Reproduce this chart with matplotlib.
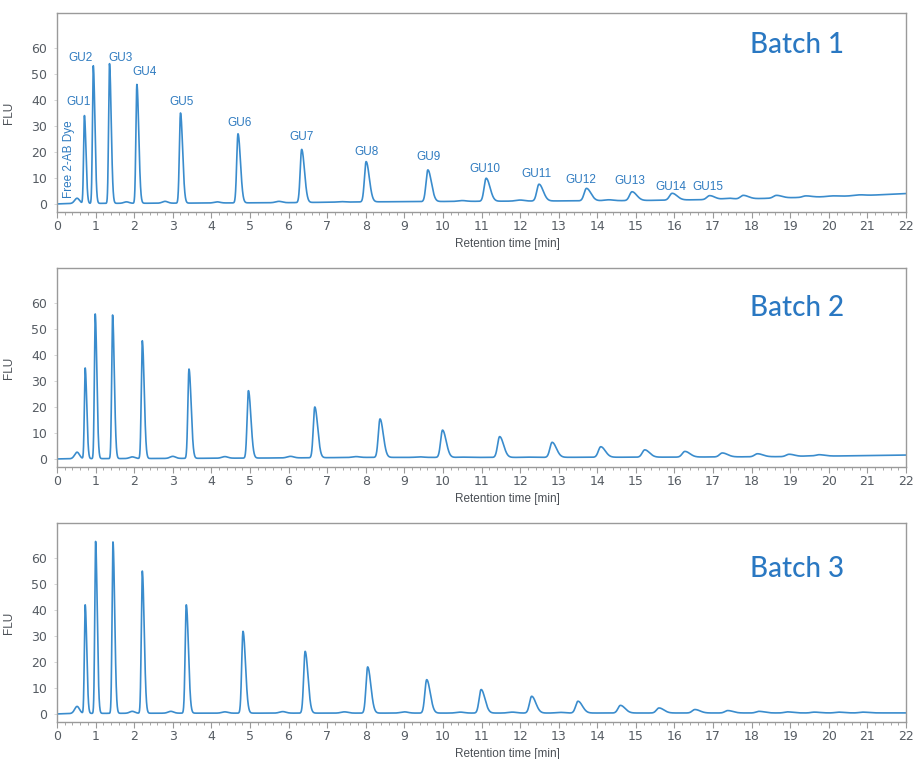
import numpy as np
import matplotlib
matplotlib.use("Agg")
import matplotlib.pyplot as plt
from matplotlib.ticker import MultipleLocator

# ---------------- data ----------------
# main peaks: apex retention time [min] and apex FLU
b1_peak_t = [0.71, 0.94, 1.36, 2.07, 3.20, 4.69, 6.34, 8.01, 9.61, 11.12, 12.49, 13.72,
             14.90, 15.94, 16.91, 17.78, 18.64, 19.40]
b1_peak_h = [34.0, 53.2, 54.0, 46.0, 35.0, 27.0, 21.0, 16.3, 13.1, 9.9, 7.6, 6.0,
             4.7, 4.1, 3.2, 3.3, 3.3, 3.1]
b1_minor_t = [0.52, 1.80, 2.80, 4.15, 5.75, 7.35, 10.50, 12.00, 14.30, 17.40, 20.10, 20.80]
b1_minor_h = [2.2, 0.8, 1.0, 0.8, 1.0, 0.9, 1.3, 1.5, 1.6, 2.2, 3.1, 3.5]
b1_base_t = [0, 0.45, 3, 6, 8, 12, 15, 17.5, 19, 20, 21, 22]
b1_base_v = [0, 0.2, 0.3, 0.5, 0.8, 1.1, 1.3, 1.8, 2.4, 2.8, 3.3, 4.0]

b2_peak_t = [0.73, 0.99, 1.44, 2.21, 3.42, 4.96, 6.68, 8.37, 9.99, 11.47, 12.83, 14.09,
             15.23, 16.27, 17.24, 18.15, 18.97, 19.75]
b2_peak_h = [35.0, 55.8, 55.4, 45.5, 34.6, 26.3, 20.0, 15.4, 11.1, 8.6, 6.4, 4.7,
             3.5, 2.9, 2.3, 2.0, 1.8, 1.6]
b2_minor_t = [0.52, 1.95, 3.00, 4.35, 6.05, 7.75, 9.40, 10.50, 12.20, 19.50]
b2_minor_h = [2.6, 0.8, 1.0, 0.9, 1.0, 0.9, 0.8, 0.7, 0.7, 1.2]
b2_base_t = [0, 0.45, 3, 6, 8, 12, 16, 19, 22]
b2_base_v = [0, 0.1, 0.2, 0.4, 0.6, 0.6, 0.7, 0.9, 1.5]

b3_peak_t = [0.73, 1.00, 1.45, 2.21, 3.35, 4.82, 6.43, 8.05, 9.58, 10.99, 12.30, 13.50,
             14.60, 15.60, 16.53, 17.38, 18.19, 18.92, 19.62, 20.24, 20.87]
b3_peak_h = [42.0, 66.4, 66.2, 55.0, 42.0, 31.8, 24.1, 18.1, 13.2, 9.4, 6.8, 4.9,
             3.3, 2.3, 1.7, 1.3, 1.0, 0.8, 0.7, 0.7, 0.7]
b3_minor_t = [0.52, 1.95, 2.95, 4.35, 5.85, 7.45, 9.00, 10.45, 11.80, 13.05]
b3_minor_h = [2.9, 1.0, 1.0, 0.8, 0.9, 0.8, 0.8, 0.7, 0.7, 0.6]
b3_base_t = [0, 0.45, 3, 22]
b3_base_v = [0, 0.2, 0.3, 0.4]

gu_labels = ["GU1", "GU2", "GU3", "GU4", "GU5", "GU6", "GU7", "GU8", "GU9", "GU10",
             "GU11", "GU12", "GU13", "GU14", "GU15"]
batch_names = ["Batch 1", "Batch 2", "Batch 3"]
y_ticks = [0, 10, 20, 30, 40, 50, 60]
x_ticks = list(range(0, 23))

# ---------------- layout / style ----------------
# label anchor positions (x in min, y in FLU) for the GU annotations
gu_pos = [(0.57, 39.1), (0.61, 56.3), (1.65, 56.3), (2.27, 50.9), (3.23, 39.1),
          (4.72, 31.3), (6.33, 25.8), (8.02, 20.1), (9.62, 17.9), (11.10, 13.3),
          (12.43, 11.4), (13.58, 9.2), (14.84, 8.8), (15.92, 6.6), (16.87, 6.6)]
LINE = "#3a8ccd"
BLUE_TXT = "#2f7bc0"
TITLE = "#2a78c2"
GRAY = "#9a9a9a"
TICK_TXT = "#565c63"

t = np.linspace(0, 22, 8801)


def trace(pt, ph, mt, mh, bt, bv):
    base = np.interp(t, bt, bv)
    y = base.copy()
    for c, h in zip(pt, ph):
        sl = 0.019 + 0.003 * c
        sr = 1.9 * sl
        s = np.where(t < c, sl, sr)
        y += (h - np.interp(c, bt, bv)) * np.exp(-0.5 * ((t - c) / s) ** 2)
    for c, h in zip(mt, mh):
        s = 0.06 + 0.004 * c
        y += (h - np.interp(c, bt, bv)) * np.exp(-0.5 * ((t - c) / s) ** 2)
    return y


series = [
    trace(b1_peak_t, b1_peak_h, b1_minor_t, b1_minor_h, b1_base_t, b1_base_v),
    trace(b2_peak_t, b2_peak_h, b2_minor_t, b2_minor_h, b2_base_t, b2_base_v),
    trace(b3_peak_t, b3_peak_h, b3_minor_t, b3_minor_h, b3_base_t, b3_base_v),
]

fig = plt.figure(figsize=(9.15, 7.59), dpi=100)
W, H = 915, 759
left, right = 57, 906
panels = [(13, 212), (268, 467), (523, 722)]
title_y = [0.839, 0.80, 0.769]

for i, ((top, bot), y) in enumerate(zip(panels, series)):
    ax = fig.add_axes([left / W, 1 - bot / H, (right - left) / W, (bot - top) / H])
    ax.plot(t, y, color=LINE, lw=1.2, solid_joinstyle="round")
    ax.set_xlim(0, 22)
    ax.set_ylim(-3.1, 73.5)
    ax.set_xticks(x_ticks)
    ax.set_yticks(y_ticks)
    ax.xaxis.set_minor_locator(MultipleLocator(0.2))
    for sp in ax.spines.values():
        sp.set_color(GRAY)
        sp.set_linewidth(1.0)
    ax.tick_params(axis="x", which="major", length=4, width=0.8, color=GRAY,
                   labelsize=9, labelcolor=TICK_TXT, pad=2)
    ax.tick_params(axis="x", which="minor", length=2.5, width=0.6, color=GRAY)
    ax.tick_params(axis="y", which="major", length=2, width=0.6, color="#d0d0d0",
                   labelsize=9, labelcolor=TICK_TXT, pad=5)
    for lab in ax.get_xticklabels() + ax.get_yticklabels():
        lab.set_family("DejaVu Sans")
    ax.set_ylabel("FLU", fontsize=8.5, color="#4a4f55", family="Liberation Sans")
    ax.yaxis.set_label_coords(-42 / (right - left), 0.5)
    ax.set_xlabel("Retention time [min]", fontsize=8.5, color="#4a4f55",
                  family="Liberation Sans")
    ax.xaxis.set_label_coords(0.531, -32 / (bot - top))
    ax.xaxis.label.set_va("center")
    ax.text(0.816, title_y[i], batch_names[i], transform=ax.transAxes,
            fontsize=20, color=TITLE, family="Lato", fontweight="medium",
            ha="left", va="center")
    if i == 0:
        for lab, (gx, gy) in zip(gu_labels, gu_pos):
            ax.text(gx, gy, lab, fontsize=8.5, color=BLUE_TXT, family="Liberation Sans",
                    ha="center", va="center")
        ax.text(0.31, 2.3, "Free 2-AB Dye", rotation=90, fontsize=8.5, color=BLUE_TXT,
                family="Liberation Sans", ha="center", va="bottom")

fig.savefig("out.png", dpi=100, facecolor="white")
